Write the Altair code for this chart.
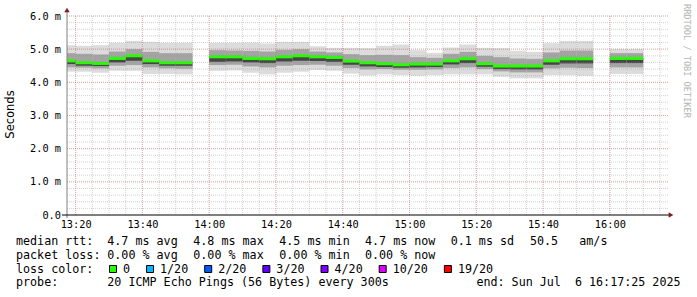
import altair as alt
import pandas as pd

# ---------------- data ----------------
slot_start = ["13:15", "13:20", "13:25", "13:30", "13:35", "13:40", "13:45", "13:50", "13:55",
              "14:00", "14:05", "14:10", "14:15", "14:20", "14:25", "14:30", "14:35", "14:40",
              "14:45", "14:50", "14:55", "15:00", "15:05", "15:10", "15:15", "15:20", "15:25",
              "15:30", "15:35", "15:40", "15:45", "15:50", "15:55", "16:00", "16:05"]

median_ms = [4.65, 4.59, 4.57, 4.72, 4.80, 4.65, 4.59, 4.59, None,
             4.77, 4.77, 4.72, 4.71, 4.77, 4.80, 4.77, 4.75, 4.64, 4.59, 4.56, 4.53,
             4.55, 4.55, 4.65, 4.71, 4.56, 4.49, 4.49, 4.49, 4.65, 4.71, 4.71, None,
             4.72, 4.72]
smoke_max = [5.12, 5.10, 5.12, 5.19, 5.25, 5.22, 5.19, 5.19, None,
             5.19, 5.19, 5.20, 5.17, 5.22, 5.22, 5.09, 5.04, 5.04, 5.03, 5.10, 5.14,
             4.97, 4.89, 5.05, 5.14, 5.04, 5.03, 4.95, 4.92, 5.18, 5.25, 5.25, None,
             5.00, 5.00]
smoke_hi = [4.88, 4.86, 4.84, 4.93, 5.00, 4.92, 4.88, 4.88, None,
            4.97, 4.96, 4.95, 4.93, 4.98, 5.00, 4.93, 4.90, 4.85, 4.82, 4.83, 4.82,
            4.76, 4.74, 4.86, 4.92, 4.80, 4.76, 4.72, 4.71, 4.90, 4.96, 4.96, None,
            4.88, 4.88]
smoke_core_lo = [4.55, 4.50, 4.49, 4.60, 4.65, 4.55, 4.50, 4.50, None,
                 4.62, 4.63, 4.60, 4.58, 4.63, 4.65, 4.64, 4.62, 4.53, 4.48, 4.46, 4.44,
                 4.45, 4.46, 4.54, 4.58, 4.47, 4.40, 4.39, 4.39, 4.53, 4.57, 4.57, None,
                 4.58, 4.58]
smoke_lo = [4.45, 4.44, 4.42, 4.50, 4.52, 4.45, 4.42, 4.41, None,
            4.52, 4.53, 4.48, 4.45, 4.50, 4.52, 4.53, 4.50, 4.43, 4.39, 4.40, 4.38,
            4.38, 4.39, 4.43, 4.45, 4.40, 4.33, 4.30, 4.30, 4.42, 4.44, 4.43, None,
            4.45, 4.45]
smoke_min = [4.32, 4.32, 4.29, 4.35, 4.35, 4.25, 4.25, 4.24, None,
             4.35, 4.36, 4.29, 4.24, 4.29, 4.32, 4.37, 4.35, 4.26, 4.21, 4.24, 4.22,
             4.20, 4.22, 4.24, 4.24, 4.24, 4.17, 4.12, 4.12, 4.22, 4.22, 4.20, None,
             4.25, 4.25]

window_start = "13:17:25"
window_end = "16:17:25"
x_tick_labels = ["13:20", "13:40", "14:00", "14:20", "14:40", "15:00", "15:20", "15:40", "16:00"]
y_ticks_ms = [0, 1, 2, 3, 4, 5, 6]

rtt_texts = ["median rtt:", "4.7 ms avg", "4.8 ms max", "4.5 ms min", "4.7 ms now", "0.1 ms sd", "50.5", "am/s"]
loss_texts = ["packet loss:", "0.00 % avg", "0.00 % max", "0.00 % min", "0.00 % now"]
loss_labels = ["0", "1/20", "2/20", "3/20", "4/20", "10/20", "19/20"]
loss_colors = ["#26ff00", "#00b8ff", "#0059ff", "#5e00ff", "#7e00ff", "#dd00ff", "#ff0000"]
probe_texts = ["probe:", "20 ICMP Echo Pings (56 Bytes) every 300s"]
end_text = "end: Sun Jul  6 16:17:25 2025"
watermark = "RRDTOOL / TOBI OETIKER"

# ---------------- helpers ----------------
def to_min(s):
    parts = [int(p) for p in s.split(":")]
    if len(parts) == 2:
        parts.append(0)
    return (parts[0] - 13) * 60 + parts[1] + parts[2] / 60.0

rows = []
for i, s in enumerate(slot_start):
    if median_ms[i] is None:
        continue
    t0 = to_min(s)
    rows.append(dict(t0=t0, t1=t0 + 5, med=median_ms[i], mx=smoke_max[i], hi=smoke_hi[i],
                     clo=smoke_core_lo[i], lo=smoke_lo[i], mn=smoke_min[i]))
df = pd.DataFrame(rows)

W, H = 601, 199
x0, x1 = to_min(window_start), to_min(window_end)
xs = alt.Scale(domain=[x0, x1], nice=False, zero=False)
ys = alt.Scale(domain=[0, 6], nice=False, zero=True)
MONO = "DejaVu Sans Mono"
NB = "\u00a0"

x_axis = alt.Axis(values=[to_min(v) for v in x_tick_labels],
                  labelExpr="(13 + floor(datum.value / 60)) + ':' + (datum.value % 60 < 10 ? '0' : '') + (datum.value % 60)",
                  domain=False, ticks=False, grid=False, labelFont=MONO, labelFontSize=10.3,
                  labelColor="#000000", labelPadding=4.5, title=None, labelFlush=False)
y_axis = alt.Axis(values=y_ticks_ms,
                  labelExpr="datum.value == 0 ? '0.0" + NB + NB + "' : format(datum.value, '.1f') + '" + NB + "m'",
                  domain=False, ticks=False, grid=False, labelFont=MONO, labelFontSize=10.3,
                  labelColor="#000000", labelPadding=6.5, title="Seconds",
                  titleFont="DejaVu Sans", titleFontSize=11.5, titleFontWeight="normal",
                  titleColor="#000000", titleX=-57, titleY=98, titleAngle=270,
                  titleAlign="center", titleBaseline="middle")

def X(f):
    return alt.X(f, type="quantitative", scale=xs, axis=x_axis)

def Y(f):
    return alt.Y(f, type="quantitative", scale=ys, axis=y_axis)

base = alt.Chart(df)
bandA = base.mark_rect(color="#dcdcdc", clip=True).encode(x=X("t0"), x2="t1", y=Y("mn"), y2="mx")
bandB = base.mark_rect(color="#a4a4a4", clip=True).encode(x=X("t0"), x2="t1", y=Y("lo"), y2="hi")
bandC = base.mark_rect(color="#464646", clip=True).encode(x=X("t0"), x2="t1", y=Y("clo"), y2="med")
median = base.mark_rule(color="#26ff00", strokeWidth=3, strokeCap="butt", clip=True).encode(
    x=X("t0"), x2="t1", y=Y("med"))

# grid
minor_x = pd.DataFrame({"v": [to_min("13:20") + 5 * k for k in range(36) if to_min("13:20") + 5 * k < x1]})
major_x = pd.DataFrame({"v": [to_min(v) for v in x_tick_labels]})
minor_y = pd.DataFrame({"v": [round(0.2 * k, 1) for k in range(1, 31)]})
major_y = pd.DataFrame({"v": y_ticks_ms[1:]})

gmx = alt.Chart(minor_x).mark_rule(color="#8f8f8f", opacity=0.4, strokeDash=[1, 1], strokeWidth=1).encode(
    x=X("v"), y=alt.value(0), y2=alt.value(H))
gmy = alt.Chart(minor_y).mark_rule(color="#8f8f8f", opacity=0.4, strokeDash=[1, 1], strokeWidth=1).encode(
    y=Y("v"), x=alt.value(0), x2=alt.value(W))
gMx = alt.Chart(major_x).mark_rule(color="#de5050", opacity=0.35, strokeDash=[1, 1], strokeWidth=1).encode(
    x=X("v"), y=alt.value(0), y2=alt.value(H))
gMy = alt.Chart(major_y).mark_rule(color="#de5050", opacity=0.35, strokeDash=[1, 1], strokeWidth=1).encode(
    y=Y("v"), x=alt.value(0), x2=alt.value(W))

one = alt.Data(values=[{"a": 1}])

def rule(xa, xb, ya, yb, color):
    return alt.Chart(one).mark_rule(color=color, strokeWidth=1).encode(
        x=alt.value(xa), x2=alt.value(xb), y=alt.value(ya), y2=alt.value(yb))

def text(s, px, py, size=11.7, color="#000000", align="left", font=MONO, angle=0, baseline="alphabetic"):
    kw = dict(font=font, fontSize=size, color=color, align=align, baseline=baseline)
    if angle:
        kw["angle"] = angle
    return alt.Chart(one).mark_text(**kw).encode(
        x=alt.value(px), y=alt.value(py), text=alt.value(s.replace(" ", NB)))

deco = [
    rule(0, 0, H + 3, -4, "#808080"),           # y axis
    rule(-5, W + 1, H, H, "#000000"),           # x axis
    alt.Chart(one).mark_point(shape="triangle-up", filled=True, size=30, color="#7f1f1f", opacity=1).encode(
        x=alt.value(0), y=alt.value(-6)),
    alt.Chart(one).mark_point(shape="triangle-right", filled=True, size=30, color="#7f1f1f", opacity=1).encode(
        x=alt.value(W + 3), y=alt.value(H)),
]

L = -51  # legend left edge relative to plot
rows_y = [229.3, 242.9, 256.6, 270.1]
seg_x = [L, 40.3, 126.3, 212.3, 298.0, 383.7, 463.0, 512.3]

texts = []
for s, px in zip(rtt_texts, seg_x):
    texts.append(text(s, px, rows_y[0]))
for s, px in zip(loss_texts, seg_x):
    texts.append(text(s, px, rows_y[1]))
texts.append(text("loss color:", L, rows_y[2]))
texts.append(text(probe_texts[0], L, rows_y[3]))
texts.append(text(probe_texts[1], seg_x[1], rows_y[3]))
texts.append(text(end_text, 613.5, rows_y[3], align="right"))
texts.append(text(watermark, 620, -12, size=8.6, color="#b4b4b4", angle=90, baseline="middle", align="left"))

# loss colour legend
char_w = 7.04
sq_left = 42.0
sq_rows = []
for lab, col in zip(loss_labels, loss_colors):
    sq_rows.append(dict(cx=sq_left + 4, tx=sq_left + 14, lab=lab, col=col))
    sq_left = sq_left + 14 + len(lab) * char_w + 16
for r in sq_rows:
    texts.append(alt.Chart(one).mark_point(shape="square", filled=True, size=49, color=r["col"],
                                           stroke="#000000", strokeWidth=1, opacity=1).encode(
        x=alt.value(r["cx"]), y=alt.value(253)))
    texts.append(text(r["lab"], r["tx"], rows_y[2]))

chart = alt.layer(bandA, bandB, bandC, median, gmx, gmy, gMx, gMy, *deco, *texts).properties(
    width=W, height=H,
    padding={"left": 67, "top": 16, "right": 29, "bottom": 82},
    autosize=alt.AutoSizeParams(type="none"),
    background="#ffffff",
).configure_view(stroke=None)

chart.save("out.html", embed_options={"renderer": "svg", "actions": False})
